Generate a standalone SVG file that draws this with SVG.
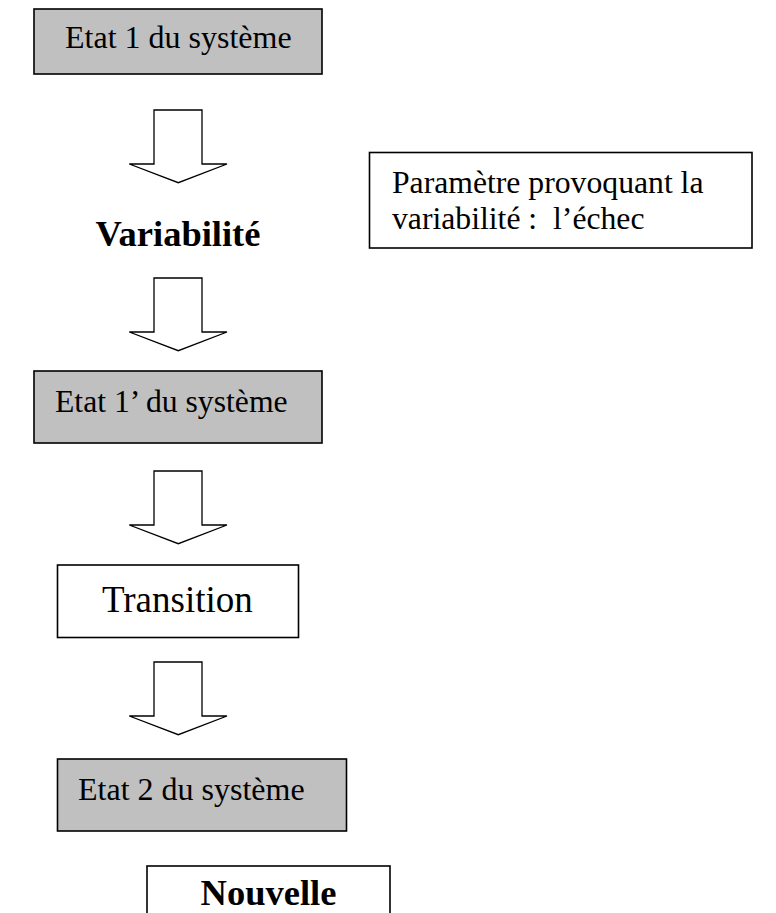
<svg xmlns="http://www.w3.org/2000/svg" width="776" height="913" viewBox="0 0 776 913">
<style>
.bg{fill:#ffffff}
.box{stroke:#000;stroke-width:1.6}
.grey{fill:#c0c0c0}
.white{fill:#ffffff}
.t{font-family:"Liberation Serif","Times New Roman",serif;fill:#000;white-space:pre}
.b{font-weight:bold}
.arrow{fill:#fff;stroke:#000;stroke-width:1.3;stroke-linejoin:miter}
</style>
<defs>
<path id="blockArrow" d="M154,0 H202 V54 H227 L178.3,72.7 L129.3,54 H154 Z"/>
</defs>
<rect class="bg" x="0" y="0" width="776" height="913"/>
<g id="connectors">
<use href="#blockArrow" class="arrow" transform="translate(0,110)"/>
<use href="#blockArrow" class="arrow" transform="translate(0,278)"/>
<use href="#blockArrow" class="arrow" transform="translate(0,471)"/>
<use href="#blockArrow" class="arrow" transform="translate(0,662)"/>
</g>
<g id="etat1">
<rect class="box grey" x="34" y="9" width="288" height="65"/>
<text class="t" x="65" y="48" font-size="32">Etat 1 du système</text>
</g>
<g id="variabilite">
<text class="t b" x="178" y="246" font-size="36.5" text-anchor="middle">Variabilité</text>
</g>
<g id="parametre">
<rect class="box white" x="369.5" y="152.5" width="382.5" height="95.5"/>
<text class="t" x="392" y="193" font-size="31.7">Paramètre provoquant la</text>
<text class="t" x="392" y="229" font-size="31.7">variabilité :  l’échec</text>
</g>
<g id="etat1prime">
<rect class="box grey" x="34" y="371" width="288" height="72"/>
<text class="t" x="55" y="412" font-size="31.7">Etat 1’ du système</text>
</g>
<g id="transition">
<rect class="box white" x="57.5" y="565" width="241" height="72.5"/>
<text class="t" x="102" y="612" font-size="37">Transition</text>
</g>
<g id="etat2">
<rect class="box grey" x="57.5" y="759" width="289" height="72"/>
<text class="t" x="78" y="800" font-size="32">Etat 2 du système</text>
</g>
<g id="nouvelle">
<rect class="box white" x="147" y="866" width="243" height="60"/>
<text class="t b" x="268.5" y="905" font-size="36.5" text-anchor="middle">Nouvelle</text>
</g>
</svg>
